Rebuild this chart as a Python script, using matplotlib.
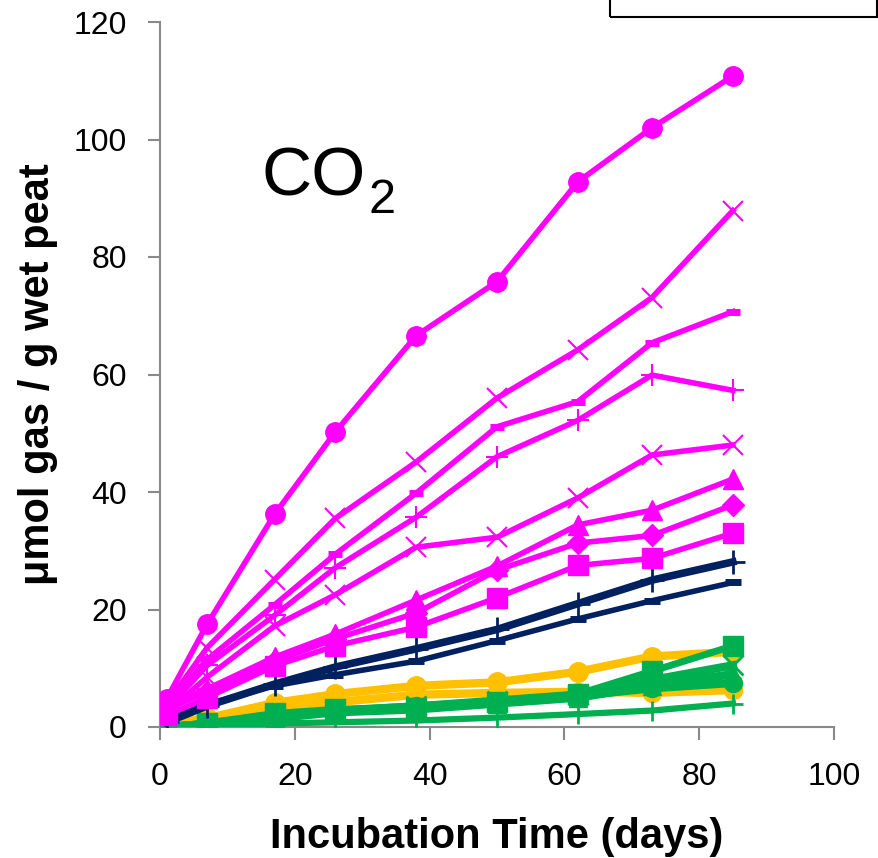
import matplotlib
matplotlib.use("Agg")
import matplotlib.pyplot as plt
from matplotlib import font_manager
from matplotlib.patches import Rectangle

names = {f.name for f in font_manager.fontManager.ttflist}
BASE = 'Liberation Sans' if 'Liberation Sans' in names else 'DejaVu Sans'
plt.rcParams['font.family'] = [BASE, 'DejaVu Sans']

# ---------------- data ----------------
days = [1, 7, 17, 26, 38, 50, 62, 73, 85]

# magenta series
mag_circle = [4.8, 17.5, 36.2, 50.2, 66.6, 75.8, 92.8, 102.0, 110.8]
mag_x_top = [4.0, 13.5, 25.1, 35.5, 45.1, 56.0, 64.2, 73.1, 87.9]
mag_dash = [3.5, 11.5, 20.8, 29.4, 39.8, 51.1, 55.4, 65.4, 70.7]
mag_plus = [3.0, 10.5, 19.0, 27.1, 35.7, 46.0, 52.2, 59.9, 57.3]
mag_x_low = [2.5, 8.5, 17.2, 22.5, 30.6, 32.3, 39.0, 46.3, 48.0]
mag_triangle = [3.5, 6.5, 11.9, 15.8, 21.6, 27.4, 34.4, 36.9, 42.2]
mag_diamond = [3.0, 6.0, 11.2, 15.0, 19.4, 26.7, 31.3, 32.6, 37.8]
mag_square = [2.0, 5.0, 10.4, 13.8, 17.0, 22.0, 27.5, 28.7, 33.0]

# navy series
navy_plus = [0.8, 3.6, 7.3, 10.2, 13.3, 16.6, 21.0, 25.0, 28.1]
navy_dash = [1.2, 3.9, 7.0, 8.9, 11.2, 14.7, 18.4, 21.5, 24.6]

# gold series
gold_circle = [0.5, 1.5, 4.1, 5.6, 7.0, 7.6, 9.4, 12.0, 12.8]
gold_low = [0.3, 1.2, 3.0, 4.2, 5.5, 5.8, 6.0, 5.8, 6.3]

# green series
green_square = [0.0, 0.7, 2.3, 3.0, 3.2, 4.3, 5.6, 9.5, 13.8]
green_x = [0.0, 0.5, 1.8, 2.8, 3.5, 4.5, 5.5, 8.0, 10.5]
green_circle = [0.0, 0.5, 1.8, 2.7, 3.5, 4.3, 5.3, 6.6, 7.5]
green_triangle = [0.0, 0.5, 1.5, 2.5, 3.0, 4.0, 5.0, 7.0, 9.0]
green_plus = [0.0, 0.2, 0.6, 0.8, 1.1, 1.6, 2.2, 2.8, 4.0]

MAG = '#FF00FF'
NAVY = '#002060'
GOLD = '#FFC000'
GREEN = '#00B050'

fig = plt.figure(figsize=(8.79, 8.58), dpi=100)
ax = fig.add_axes([160/879, 1-727/858, (834-160)/879, (727-22)/858])

# gold
ax.plot(days, gold_low, color=GOLD, lw=6, marker='o', ms=13, zorder=2)
ax.plot(days, gold_circle, color=GOLD, lw=6, marker='o', ms=14, zorder=2)
# green
ax.plot(days, green_plus, color=GREEN, lw=4.5, marker='+', ms=15, mew=2, zorder=3)
ax.plot(days, green_triangle, color=GREEN, lw=6, marker='^', ms=13, zorder=3)
ax.plot(days, green_circle, color=GREEN, lw=6, marker='o', ms=13, zorder=3)
ax.plot(days, green_x, color=GREEN, lw=6, marker='x', ms=14, mew=2, zorder=3)
ax.plot(days, green_square, color=GREEN, lw=5, marker='s', ms=14, zorder=3)
# navy
ax.plot(days, navy_dash, color=NAVY, lw=4, marker='_', ms=11, mew=5, zorder=4)
ax.plot(days, navy_plus, color=NAVY, lw=5.5, marker='+', ms=17, mew=2, zorder=4)
# magenta
ax.plot(days, mag_square, color=MAG, lw=4, marker='s', ms=14, zorder=5)
ax.plot(days, mag_diamond, color=MAG, lw=4, marker='D', ms=11, zorder=5)
ax.plot(days, mag_triangle, color=MAG, lw=4, marker='^', ms=14, zorder=5)
ax.plot(days, mag_x_low, color=MAG, lw=4, marker='x', ms=14, mew=1.5, zorder=5)
ax.plot(days, mag_plus, color=MAG, lw=4, marker='+', ms=16, mew=1.5, zorder=5)
ax.plot(days, mag_dash, color=MAG, lw=4, marker='_', ms=10, mew=5, zorder=5)
ax.plot(days, mag_x_top, color=MAG, lw=4, marker='x', ms=14, mew=1.5, zorder=5)
ax.plot(days, mag_circle, color=MAG, lw=4, marker='o', ms=14, zorder=5)

ax.set_xlim(0, 100)
ax.set_ylim(0, 120)
ax.set_xticks([0, 20, 40, 60, 80, 100])
ax.set_yticks([0, 20, 40, 60, 80, 100, 120])
for s in ['top', 'right']:
    ax.spines[s].set_visible(False)
for s in ['left', 'bottom']:
    ax.spines[s].set_color('#898989')
    ax.spines[s].set_linewidth(1.5)
ax.tick_params(axis='both', direction='out', length=9, width=1.5, color='#898989',
               labelsize=23, labelcolor='black')
ax.tick_params(axis='x', pad=16)
ax.tick_params(axis='y', pad=15)
ax.set_xlabel('Incubation Time (days)', fontsize=30, fontweight='bold', labelpad=18)
ax.set_ylabel('μmol gas / g wet peat', fontsize=30, fontweight='bold', labelpad=11)

# CO2 annotation
ax.text(15.1, (727-195)/5.875, 'CO', fontsize=50,
        ha='left', va='baseline', zorder=6)
ax.text((369-160)/6.74, (727-213)/5.875, '2', fontsize=35,
        ha='left', va='baseline', zorder=6)

# partially visible legend box at the top right
fig.patches.append(Rectangle((610/879, 1-17/858), (877-610)/879, 0.2,
                             transform=fig.transFigure, fill=False,
                             edgecolor='black', linewidth=1.5, clip_on=False))

fig.savefig('out.png', dpi=100)
